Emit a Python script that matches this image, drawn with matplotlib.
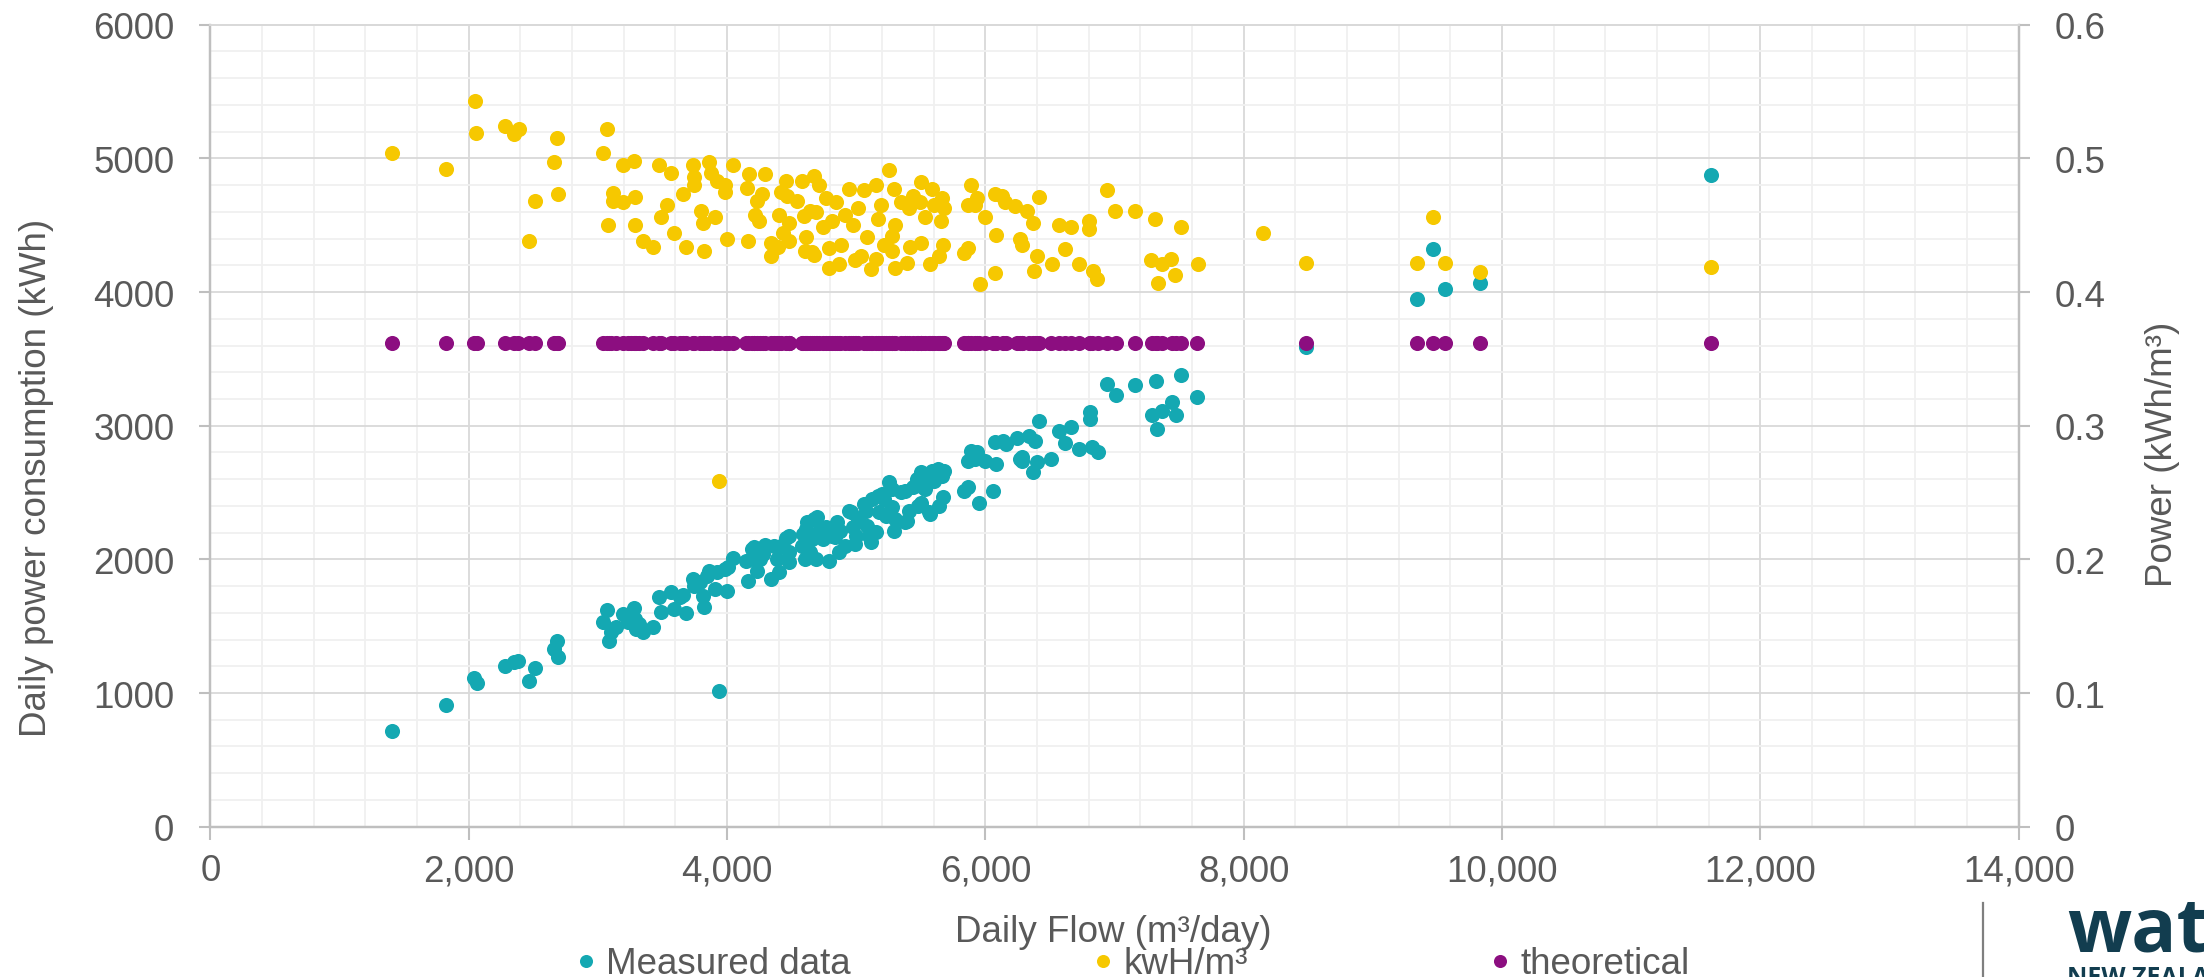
import numpy as np
import matplotlib
matplotlib.use("Agg")
import matplotlib.pyplot as plt
from matplotlib.lines import Line2D
from matplotlib.ticker import FuncFormatter

plt.rcParams['font.family'] = ['Liberation Sans', 'DejaVu Sans']

# Measured daily power (kWh) against daily flow (m3/day)
flow_measured = [1409, 1827, 2040, 2063, 2280, 2352, 2383, 2463, 2512, 2663, 2681, 2694,
                 3036, 3067, 3085, 3098, 3143, 3192, 3232, 3254, 3281, 3285, 3298, 3321, 3347,
                 3423, 3472, 3485, 3565, 3587, 3632, 3659, 3685, 3734, 3747, 3788, 3810, 3823,
                 3841, 3858, 3907, 3921, 3934, 3987, 3996, 4009, 4045, 4143, 4165, 4192, 4210,
                 4210, 4232, 4254, 4276, 4290, 4339, 4365, 4387, 4401, 4414, 4454, 4476, 4476,
                 4476, 4579, 4588, 4601, 4610, 4618, 4645, 4654, 4672, 4690, 4698, 4712, 4743,
                 4765, 4788, 4810, 4832, 4854, 4868, 4876, 4912, 4947, 4956, 4974, 4992, 5001,
                 5010, 5059, 5077, 5081, 5099, 5116, 5121, 5152, 5165, 5179, 5197, 5214, 5232,
                 5254, 5276, 5276, 5294, 5299, 5343, 5374, 5379, 5392, 5410, 5441, 5468, 5478,
                 5498, 5498, 5503, 5530, 5562, 5574, 5588, 5588, 5601, 5632, 5641, 5651, 5663,
                 5668, 5677, 5837, 5863, 5863, 5890, 5921, 5934, 5952, 5997, 6061, 6072, 6081,
                 6134, 6161, 6246, 6268, 6281, 6285, 6334, 6367, 6383, 6397, 6417, 6510, 6570,
                 6619, 6664, 6728, 6807, 6807, 6827, 6871, 6945, 7009, 7162, 7286, 7320, 7330,
                 7365, 7444, 7473, 7518, 7641, 8479, 9343, 9466, 9560, 9827, 11620]
power_measured = [718, 913, 1112, 1072, 1199, 1229, 1242, 1090, 1184, 1329, 1386, 1267,
                  1529, 1621, 1389, 1454, 1491, 1591, 1529, 1566, 1638, 1554, 1479, 1516, 1454,
                  1496, 1721, 1603, 1758, 1628, 1716, 1733, 1596, 1853, 1803, 1828, 1728, 1641,
                  1878, 1915, 1778, 1903, 1017, 1928, 1765, 1940, 2012, 1990, 1840, 2077, 2002,
                  2090, 1915, 2002, 2040, 2110, 1853, 2102, 2002, 1903, 2102, 2157, 1977, 2052,
                  2177, 2102, 2189, 2002, 2227, 2277, 2052, 2152, 2302, 2002, 2314, 2214, 2152,
                  2239, 1990, 2177, 2165, 2277, 2052, 2214, 2102, 2364, 2351, 2239, 2115, 2177,
                  2302, 2414, 2364, 2252, 2177, 2127, 2451, 2202, 2476, 2351, 2489, 2451, 2327,
                  2576, 2389, 2526, 2214, 2302, 2501, 2514, 2277, 2290, 2364, 2539, 2601, 2401,
                  2651, 2421, 2551, 2526, 2351, 2339, 2663, 2601, 2588, 2676, 2401, 2651, 2626,
                  2464, 2663, 2514, 2539, 2738, 2813, 2751, 2800, 2421, 2738, 2513, 2875, 2713,
                  2888, 2863, 2905, 2750, 2763, 2738, 2925, 2651, 2888, 2730, 3037, 2750, 2962,
                  2870, 2992, 2825, 3099, 3050, 2838, 2805, 3311, 3232, 3306, 3080, 3336, 2975,
                  3112, 3174, 3080, 3381, 3217, 3586, 3948, 4322, 4022, 4067, 4875]

# Specific energy (kWh/m3) against daily flow
flow_specific = [1409, 1827, 2045, 2058, 2280, 2352, 2387, 2463, 2512, 2663, 2681, 2694,
                 3036, 3067, 3081, 3116, 3116, 3192, 3192, 3281, 3285, 3285, 3347, 3423, 3472,
                 3485, 3534, 3565, 3592, 3659, 3685, 3734, 3747, 3747, 3801, 3810, 3823, 3858,
                 3872, 3907, 3921, 3934, 3983, 3983, 3996, 4045, 4152, 4165, 4170, 4214, 4232,
                 4245, 4268, 4290, 4343, 4343, 4392, 4401, 4414, 4436, 4459, 4467, 4476, 4476,
                 4543, 4579, 4596, 4605, 4610, 4645, 4654, 4672, 4676, 4690, 4712, 4743, 4765,
                 4788, 4792, 4810, 4845, 4868, 4885, 4912, 4947, 4974, 4992, 5010, 5036, 5059,
                 5081, 5116, 5152, 5156, 5165, 5188, 5214, 5254, 5276, 5276, 5294, 5299, 5299,
                 5343, 5392, 5410, 5419, 5441, 5490, 5498, 5498, 5530, 5574, 5588, 5601, 5641,
                 5659, 5663, 5668, 5677, 5837, 5863, 5863, 5890, 5921, 5934, 5961, 5997, 6072,
                 6072, 6081, 6128, 6152, 6226, 6266, 6281, 6325, 6370, 6375, 6399, 6414, 6513,
                 6572, 6617, 6666, 6725, 6804, 6804, 6834, 6864, 6943, 7002, 7160, 7283, 7313,
                 7333, 7367, 7436, 7471, 7516, 7644, 8153, 8479, 9343, 9466, 9560, 9827, 11620]
specific_energy = [0.504, 0.492, 0.543, 0.519, 0.524, 0.518, 0.522, 0.438, 0.468, 0.497, 0.515, 0.473,
                   0.504, 0.522, 0.450, 0.474, 0.468, 0.495, 0.467, 0.498, 0.471, 0.450, 0.438, 0.434, 0.495,
                   0.456, 0.465, 0.489, 0.444, 0.473, 0.434, 0.495, 0.486, 0.480, 0.461, 0.452, 0.431, 0.497,
                   0.489, 0.456, 0.483, 0.259, 0.480, 0.475, 0.440, 0.495, 0.478, 0.438, 0.488, 0.458, 0.468,
                   0.453, 0.473, 0.488, 0.437, 0.427, 0.434, 0.458, 0.475, 0.444, 0.483, 0.472, 0.452, 0.438,
                   0.468, 0.483, 0.457, 0.431, 0.441, 0.461, 0.430, 0.487, 0.428, 0.460, 0.480, 0.449, 0.470,
                   0.418, 0.433, 0.453, 0.467, 0.421, 0.435, 0.458, 0.477, 0.450, 0.424, 0.463, 0.427, 0.476,
                   0.441, 0.417, 0.425, 0.480, 0.455, 0.465, 0.435, 0.491, 0.442, 0.431, 0.477, 0.450, 0.418,
                   0.467, 0.422, 0.463, 0.434, 0.472, 0.467, 0.482, 0.437, 0.456, 0.421, 0.477, 0.465, 0.427,
                   0.453, 0.470, 0.435, 0.463, 0.429, 0.433, 0.465, 0.480, 0.465, 0.470, 0.406, 0.456, 0.473,
                   0.414, 0.443, 0.472, 0.467, 0.464, 0.440, 0.435, 0.461, 0.452, 0.416, 0.427, 0.471, 0.421,
                   0.450, 0.432, 0.449, 0.421, 0.453, 0.447, 0.416, 0.410, 0.476, 0.461, 0.461, 0.424, 0.455,
                   0.407, 0.421, 0.425, 0.413, 0.449, 0.421, 0.444, 0.422, 0.422, 0.456, 0.422, 0.415, 0.419]

# Theoretical specific energy (same for every day)
theoretical_kwh_m3 = 0.362

TEAL = '#14a8b2'
YELLOW = '#f6c800'
PURPLE = '#8c0e80'
TEXT = '#595959'
FS = 26.5
MS = 118

fig = plt.figure(figsize=(22.04, 9.78), dpi=100)
ax = fig.add_axes([0.0955, 0.1537, 0.8204, 0.8200])
ax2 = ax.twinx()

ax.scatter(flow_measured, power_measured, s=MS, color=TEAL, linewidths=0, zorder=3)
ax2.scatter(flow_specific, specific_energy, s=MS, color=YELLOW, linewidths=0, zorder=3)
ax2.scatter(flow_measured, np.full(len(flow_measured), theoretical_kwh_m3), s=MS,
            color=PURPLE, linewidths=0, zorder=4)

ax.set_xlim(0, 14000)
ax.set_ylim(0, 6000)
ax2.set_ylim(0, 0.6)
ax.set_xticks(np.arange(0, 14001, 2000))
ax.set_xticks(np.arange(0, 14001, 400), minor=True)
ax.set_yticks(np.arange(0, 6001, 1000))
ax.set_yticks(np.arange(0, 6001, 200), minor=True)
ax2.set_yticks(np.arange(0, 0.61, 0.1))

ax.xaxis.set_major_formatter(FuncFormatter(lambda v, p: f"{int(v):,}"))
ax.yaxis.set_major_formatter(FuncFormatter(lambda v, p: f"{int(v)}"))
ax2.yaxis.set_major_formatter(FuncFormatter(lambda v, p: f"{v:.1f}" if v > 0 else "0"))

ax.set_axisbelow(True)
ax.grid(which='major', color='#d9d9d9', linewidth=1.3)
ax.grid(which='minor', color='#f0f0f0', linewidth=1.3)

for a in (ax, ax2):
    for side in ('left', 'right', 'bottom'):
        a.spines[side].set_color('#bfbfbf')
        a.spines[side].set_linewidth(1.6)
    a.spines['top'].set_color('#d9d9d9')
    a.spines['top'].set_linewidth(1.3)

ax.tick_params(axis='x', which='major', direction='out', length=9, width=1.5, color='#bfbfbf',
               labelsize=FS, labelcolor=TEXT, pad=10)
ax.tick_params(axis='y', which='major', direction='out', length=8, width=1.5, color='#bfbfbf',
               labelsize=FS, labelcolor=TEXT, pad=18)
ax.tick_params(which='minor', length=0)
ax2.tick_params(axis='y', which='major', direction='out', length=8, width=1.5, color='#bfbfbf',
                labelsize=FS, labelcolor=TEXT, pad=18)

W, H = 2204, 978
fig.text(37 / W, 1 - 478 / H, 'Daily power consumption (kWh)', rotation=90,
         ha='center', va='center', fontsize=FS, color=TEXT)
fig.text(2162 / W, 1 - 454 / H, 'Power (kWh/m³)', rotation=90,
         ha='center', va='center', fontsize=FS, color=TEXT)
fig.text(1113 / W, 1 - 942 / H, 'Daily Flow (m³/day)', ha='center', va='baseline',
         fontsize=FS, color=TEXT)

handles = [Line2D([], [], marker='o', linestyle='none', markersize=9.4, markeredgewidth=0,
                  color=c) for c in (TEAL, YELLOW, PURPLE)]
fig.legend(handles, ['Measured data', 'kwH/m³', 'theoretical'], loc='center',
           bbox_to_anchor=(1133 / W, 1 - 965 / H), ncol=3, frameon=False, fontsize=FS,
           labelcolor=TEXT, handlelength=0.5, handletextpad=0.3, columnspacing=6.6,
           borderpad=0, borderaxespad=0)

# partial logo at the bottom right corner
fig.add_artist(Line2D([1983 / W, 1983 / W], [0, 1 - 904 / H], color='#7f7f7f', linewidth=1.6))
fig.text(2067 / W, 1 - 952 / H, 'water', ha='left', va='baseline', fontsize=54,
         fontweight='bold', family='Open Sans', color='#123d4f')
fig.text(2067 / W, 1 - 966 / H, 'NEW ZEALAND', ha='left', va='top', fontsize=18,
         fontweight='bold', family='Open Sans', color='#123d4f')

fig.savefig('out.png', dpi=100)
